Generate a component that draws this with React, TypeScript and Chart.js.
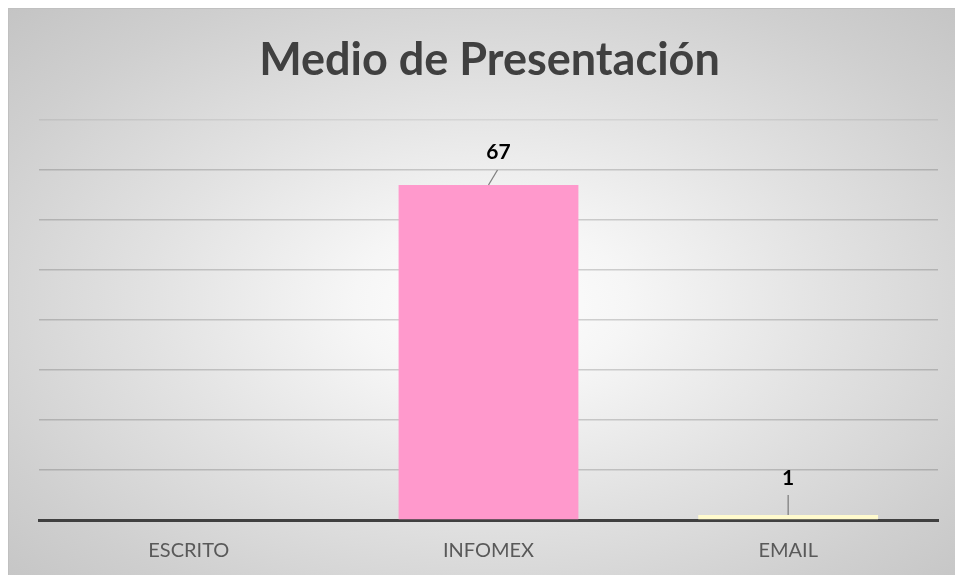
import React, { useEffect, useRef } from "react";
import { Chart, registerables } from "chart.js";

Chart.register(...registerables);

const TITLE = "Medio de Presentación";
const categories = ["ESCRITO", "INFOMEX", "EMAIL"];
const values = [0, 67, 1];
const barColors = ["#FF99CC", "#FF99CC", "#FFFACD"];
const Y_MAX = 80;
const Y_STEP = 10;

const labelPlugin = {
  id: "valueLabels",
  afterDatasetsDraw(chart: any) {
    const ctx = chart.ctx;
    const meta = chart.getDatasetMeta(0);
    meta.data.forEach((bar: any, i: number) => {
      const v = values[i];
      if (!v) return;
      const tall = bar.base - bar.y > 40;
      const lx = bar.x + (tall ? 10 : 0);
      const baseY = bar.y - (tall ? 26 : 30);
      ctx.save();
      ctx.strokeStyle = "#808080";
      ctx.lineWidth = 1.3;
      ctx.beginPath();
      if (tall) {
        ctx.moveTo(bar.x + 9, bar.y - 15);
        ctx.lineTo(bar.x, bar.y);
      } else {
        ctx.moveTo(bar.x, bar.y - 20);
        ctx.lineTo(bar.x, bar.y);
      }
      ctx.stroke();
      ctx.fillStyle = "#000000";
      ctx.font = "bold 21px Lato";
      ctx.textAlign = "center";
      ctx.textBaseline = "alphabetic";
      ctx.fillText(String(v), lx, baseY);
      ctx.restore();
    });
  },
  afterDraw(chart: any) {
    const ctx = chart.ctx;
    const a = chart.chartArea;
    ctx.save();
    ctx.fillStyle = "#404040";
    ctx.font = "bold 45px Lato";
    ctx.textAlign = "center";
    ctx.textBaseline = "alphabetic";
    ctx.fillText(TITLE, (a.left + a.right) / 2 + 1, 67);
    ctx.restore();
  },
};

export default function App() {
  const ref = useRef<HTMLCanvasElement>(null);
  useEffect(() => {
    if (!ref.current) return;
    const chart = new Chart(ref.current, {
      type: "bar",
      data: {
        labels: categories,
        datasets: [
          {
            data: values,
            backgroundColor: barColors,
            borderWidth: 0,
            categoryPercentage: 1,
            barPercentage: 0.6,
          },
        ],
      },
      options: {
        animation: false,
        responsive: true,
        maintainAspectRatio: false,
        layout: { padding: { left: 31, right: 17, top: 112, bottom: 12 } },
        plugins: {
          legend: { display: false },
          title: { display: false },
          tooltip: { enabled: false },
        },
        scales: {
          x: {
            z: 1,
            afterFit: (scale: any) => {
              scale.height = 43;
            },
            grid: { display: false, drawTicks: false },
            border: { display: true, color: "#404040", width: 3 },
            ticks: {
              padding: 19,
              color: "#595959",
              font: { family: "Lato", size: 20 },
            },
          },
          y: {
            min: 0,
            max: Y_MAX,
            ticks: { display: false, stepSize: Y_STEP },
            border: { display: false },
            grid: {
              drawTicks: false,
              lineWidth: 1.5,
              color: (c: any) =>
                c.tick && c.tick.value === 0
                  ? "rgba(0,0,0,0)"
                  : c.tick && c.tick.value === Y_MAX
                  ? "rgba(0,0,0,0.07)"
                  : "rgba(0,0,0,0.17)",
            },
          },
        },
      },
      plugins: [labelPlugin],
    });
    return () => chart.destroy();
  }, []);
  return (
    <div
      style={{
        position: "fixed",
        left: 8,
        top: 8,
        width: 947,
        height: 567,
        background:
          "radial-gradient(ellipse farthest-corner at 51% 52%, #ffffff 0%, #f6f6f6 20%, #e2e2e2 50%, #cfcfcf 80%, #c4c4c4 100%)",
        boxShadow: "inset 1px 1px 0 #c0c0c0",
      }}
    >
      <canvas ref={ref} />
    </div>
  );
}
